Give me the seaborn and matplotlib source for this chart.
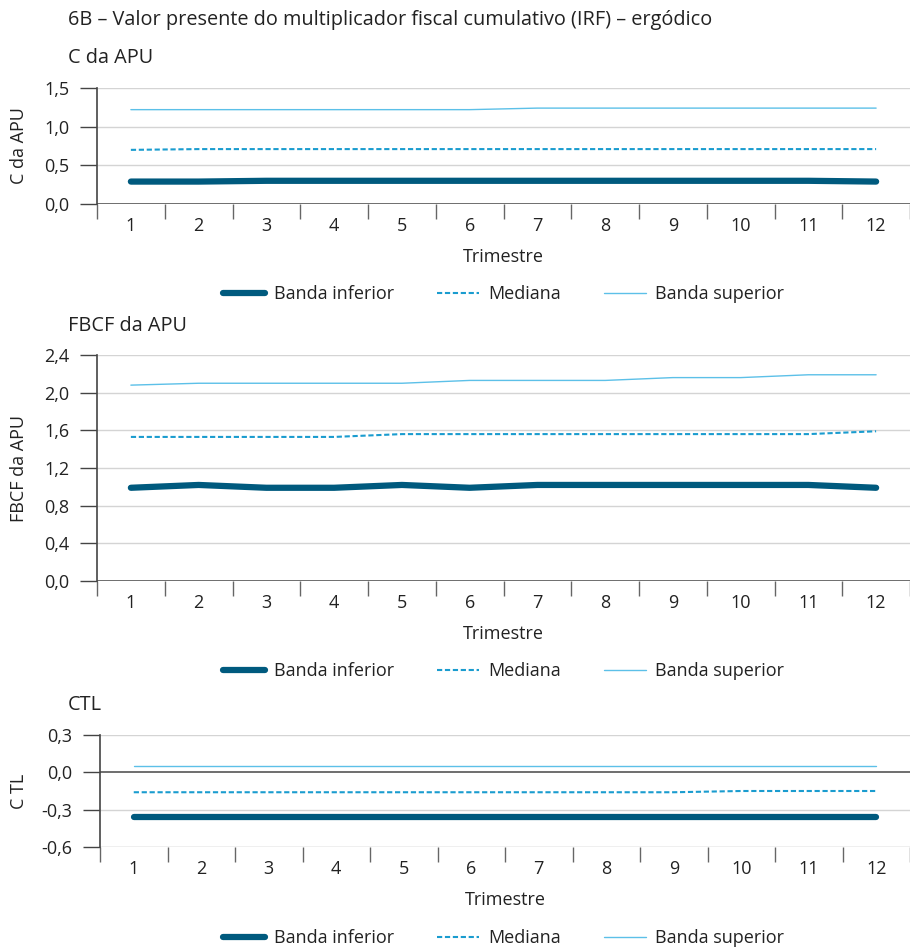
import matplotlib
matplotlib.use("Agg")
import matplotlib.pyplot as plt
import seaborn as sns
import pandas as pd

trimestres = list(range(1, 13))
series_names = ["Banda inferior", "Mediana", "Banda superior"]

c_inf = [0.29, 0.29, 0.30, 0.30, 0.30, 0.30, 0.30, 0.30, 0.30, 0.30, 0.30, 0.29]
c_med = [0.70, 0.71, 0.71, 0.71, 0.71, 0.71, 0.71, 0.71, 0.71, 0.71, 0.71, 0.71]
c_sup = [1.22, 1.22, 1.22, 1.22, 1.22, 1.22, 1.24, 1.24, 1.24, 1.24, 1.24, 1.24]

f_inf = [0.99, 1.02, 0.99, 0.99, 1.02, 0.99, 1.02, 1.02, 1.02, 1.02, 1.02, 0.99]
f_med = [1.53, 1.53, 1.53, 1.53, 1.56, 1.56, 1.56, 1.56, 1.56, 1.56, 1.56, 1.59]
f_sup = [2.08, 2.10, 2.10, 2.10, 2.10, 2.13, 2.13, 2.13, 2.16, 2.16, 2.19, 2.19]

t_inf = [-0.36] * 12
t_med = [-0.16, -0.16, -0.16, -0.16, -0.16, -0.16, -0.16, -0.16, -0.16, -0.15, -0.15, -0.15]
t_sup = [0.05] * 12

title = "6B – Valor presente do multiplicador fiscal cumulativo (IRF) – ergódico"
panel_titles = ["C da APU", "FBCF da APU", "CTL"]
ylabels = ["C da APU", "FBCF da APU", "C TL"]
yticks_list = [[0.0, 0.5, 1.0, 1.5], [0.0, 0.4, 0.8, 1.2, 1.6, 2.0, 2.4], [-0.6, -0.3, 0.0, 0.3]]
xlabel = "Trimestre"

sns.set_style("white")
plt.rcParams['font.family'] = ['Open Sans', 'DejaVu Sans']

colors = ["#005a7e", "#1a9ccf", "#5cc0e8"]
widths = [4.5, 1.5, 1.0]
styles = ["-", (0, (2.5, 1.3)), "-"]

W, H = 910, 947
fig = plt.figure(figsize=(W / 100, H / 100), dpi=100)

def fx(px):
    return px / W

def fy(px):
    return 1 - px / H

panels = [
    dict(data=(c_inf, c_med, c_sup), left=97, top=88, bottom=204, xmax=12.38,
         ylim=(0, 1.5), sub_y=58, legend_y=294, zero_dark=True),
    dict(data=(f_inf, f_med, f_sup), left=97, top=355, bottom=581, xmax=12.38,
         ylim=(0, 2.4), sub_y=326, legend_y=671, zero_dark=True),
    dict(data=(t_inf, t_med, t_sup), left=100, top=735, bottom=847, xmax=12.47,
         ylim=(-0.6, 0.3), sub_y=705, legend_y=938, zero_dark=False),
]

TXT = "#222222"
FS = 13
fig.text(fx(68), fy(20), title, fontsize=14.3, color=TXT, va="center", ha="left")

def fmt(v):
    return f"{v:.1f}".replace(".", ",")

for i, p in enumerate(panels):
    ax = fig.add_axes([fx(p["left"]), fy(p["bottom"]), fx(W - p["left"]), (p["bottom"] - p["top"]) / H])
    df = pd.DataFrame({
        "Trimestre": trimestres * 3,
        "valor": list(p["data"][0]) + list(p["data"][1]) + list(p["data"][2]),
        "serie": sum([[n] * 12 for n in series_names], []),
    })
    for j, name in enumerate(series_names):
        sub = df[df["serie"] == name]
        sns.lineplot(data=sub, x="Trimestre", y="valor", ax=ax, color=colors[j],
                     linewidth=widths[j], linestyle=styles[j], label=name,
                     solid_capstyle="round", zorder=3 + (2 - j))
    ax.set_xlim(0.5, p["xmax"])
    ax.set_ylim(*p["ylim"])
    yt = yticks_list[i]
    ax.set_yticks(yt)
    ax.set_yticklabels([fmt(v) for v in yt], fontsize=FS, color=TXT)
    for v in yt:
        if v == 0:
            continue
        ax.axhline(v, color="#d4d4d4", linewidth=1.0, zorder=1)
    ax.axhline(0, color="#555555", linewidth=1.2, zorder=2)
    if not p["zero_dark"]:
        ax.axhline(p["ylim"][0], color="#d4d4d4", linewidth=1.0, zorder=1)
    ax.set_xticks([k + 0.5 for k in range(0, 13)])
    ax.set_xticklabels([])
    ax.set_xticks(trimestres, minor=True)
    ax.set_xticklabels([str(t) for t in trimestres], minor=True, fontsize=FS, color=TXT)
    ax.tick_params(axis="x", which="major", direction="out", length=11, width=1, color="#666666",
                   bottom=True)
    ax.tick_params(axis="x", which="minor", length=0, pad=9)
    ax.tick_params(axis="y", direction="out", length=12, width=1, color="#444444", left=True, pad=8)
    for s in ["top", "right", "bottom"]:
        ax.spines[s].set_visible(False)
    ax.spines["left"].set_color("#444444")
    ax.spines["left"].set_linewidth(1.2)
    ax.set_xlabel(xlabel, fontsize=FS, color=TXT, labelpad=10)
    ax.set_ylabel(ylabels[i], fontsize=FS, color=TXT)
    ax.yaxis.set_label_coords((28 - p["left"]) / (W - p["left"]), 0.5)
    ax.grid(False)
    leg = ax.legend(loc="center", bbox_to_anchor=(fx(503.5), fy(p["legend_y"])),
                    bbox_transform=fig.transFigure, ncol=3, frameon=False, fontsize=FS,
                    handlelength=2.3, columnspacing=2.4, handletextpad=0.5)
    for t in leg.get_texts():
        t.set_color(TXT)
    fig.text(fx(68), fy(p["sub_y"]), panel_titles[i], fontsize=14.3, color=TXT,
             va="center", ha="left")

fig.savefig("out.png", dpi=100)
